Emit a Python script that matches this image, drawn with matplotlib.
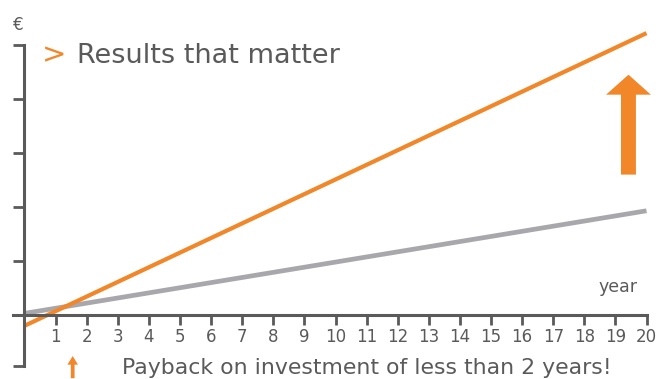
import matplotlib.pyplot as plt
from matplotlib.patches import FancyArrow

# data
years = [0, 20]
orange_vals = [-0.20, 5.22]
gray_vals = [0.03, 1.93]
year_ticks = list(range(1, 21))
y_ticks = [-0.94, 0, 1, 2, 3, 4, 5]

ORANGE = '#F28729'
GRAY = '#A8A8AC'
DARK = '#5A5A5A'

plt.rcParams['font.family'] = ['DejaVu Sans']

fig = plt.figure(figsize=(6.64, 3.79), dpi=100)
W, H = 664.0, 379.0
pxx, pxy = 31.1, 54.0
x0, y0 = 24.5, 315.0
xl, xr = -0.6, 20.4
yb, yt = -1.2, 5.6
left = (x0 + xl * pxx) / W
bottom = (H - (y0 - yb * pxy)) / H
ax = fig.add_axes([left, bottom, (xr - xl) * pxx / W, (yt - yb) * pxy / H])
ax.set_xlim(xl, xr)
ax.set_ylim(yb, yt)

ax.plot(years, gray_vals, color=GRAY, lw=3.4, solid_capstyle='butt')
ax.plot(years, orange_vals, color=ORANGE, lw=3.0, solid_capstyle='butt', clip_on=False)

for s in ['top', 'right']:
    ax.spines[s].set_visible(False)
ax.spines['left'].set_position(('data', 0))
ax.spines['bottom'].set_position(('data', 0))
ax.spines['left'].set_bounds(-0.94, 5)
ax.spines['bottom'].set_bounds(-0.38, 20.0)
for s in ['left', 'bottom']:
    ax.spines[s].set_color(DARK)
    ax.spines[s].set_linewidth(2.2)

ax.set_xticks(year_ticks)
ax.set_xticklabels([str(t) for t in year_ticks])
ax.set_yticks(y_ticks)
ax.set_yticklabels([])
ax.tick_params(axis='x', direction='out', length=7, width=2, color=DARK,
               labelsize=12, labelcolor=DARK, pad=2.5)
ax.tick_params(axis='y', direction='out', length=8, width=2, color=DARK)

ax.text(19.7, 0.35, 'year', ha='right', va='bottom', fontsize=12.5, color=DARK)
ax.text(-0.2, 5.37, '€', ha='center', va='center', fontsize=12, color=DARK)
ax.text(0.55, 4.8, '>', ha='left', va='center', fontsize=21, color=ORANGE)
ax.text(1.7, 4.8, 'Results that matter', ha='left', va='center', fontsize=19.5, color=DARK)
ax.text(3.15, -0.98, 'Payback on investment of less than 2 years!', ha='left', va='center',
        fontsize=15.8, color=DARK, clip_on=False)

big = FancyArrow(19.42, 2.6, 0, 1.85, width=0.48, head_width=1.44, head_length=0.37,
                 length_includes_head=True, color=ORANGE, lw=0)
ax.add_patch(big)
small = FancyArrow(1.55, -1.17, 0, 0.41, width=0.12, head_width=0.34, head_length=0.16,
                   length_includes_head=True, color=ORANGE, lw=0, clip_on=False)
ax.add_patch(small)

fig.savefig('out.png', dpi=100)
